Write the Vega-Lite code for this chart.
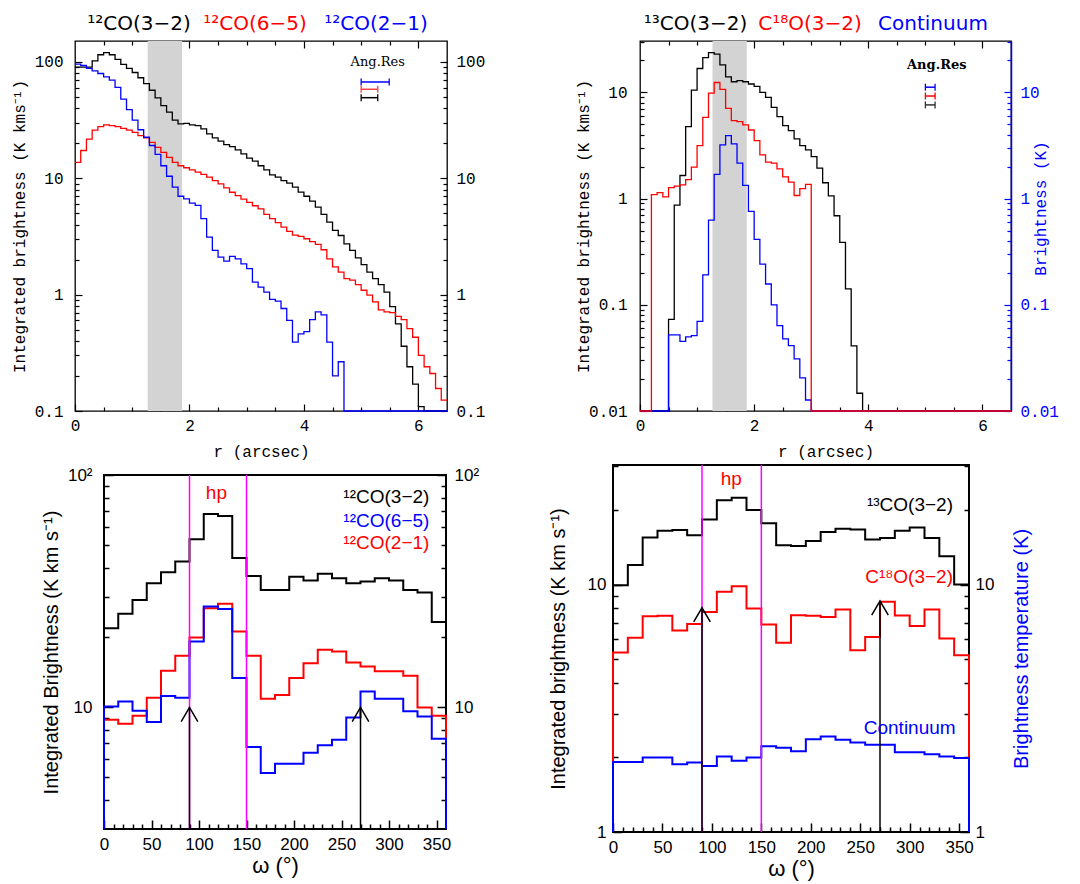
{
"$schema": "https://vega.github.io/schema/vega-lite/v6.json",
"padding": 0,
"background": "#ffffff",
"config": {
  "view": {"stroke": null},
  "axis": {"grid": false, "domain": false, "labelOverlap": false, "labelFlush": false, "titleFontWeight": "normal", "labelColor": "#000000", "titleColor": "#000000", "tickColor": "#000000"}
},
"datasets": {
  "tl_k": [{"r":0,"v":90},{"r":0.1,"v":90},{"r":0.2,"v":90},{"r":0.3,"v":102},{"r":0.4,"v":115},{"r":0.5,"v":120},{"r":0.6,"v":115},{"r":0.7,"v":105},{"r":0.8,"v":95},{"r":0.9,"v":88},
    {"r":1,"v":81},{"r":1.1,"v":73},{"r":1.2,"v":65},{"r":1.3,"v":57},{"r":1.4,"v":49},{"r":1.5,"v":42},{"r":1.6,"v":37},{"r":1.7,"v":31.6},{"r":1.8,"v":29.3},{"r":1.9,"v":29.6},
    {"r":2,"v":28.7},{"r":2.1,"v":28.3},{"r":2.2,"v":26.5},{"r":2.3,"v":24},{"r":2.4,"v":22.2},{"r":2.5,"v":20.8},{"r":2.6,"v":19.4},{"r":2.7,"v":18.7},{"r":2.8,"v":17.5},{"r":2.9,"v":16.2},
    {"r":3,"v":14.9},{"r":3.1,"v":14},{"r":3.2,"v":12.8},{"r":3.3,"v":11.8},{"r":3.4,"v":10.7},{"r":3.5,"v":10.2},{"r":3.6,"v":9.55},{"r":3.7,"v":9.06},{"r":3.8,"v":8.37},{"r":3.9,"v":7.6},
    {"r":4,"v":7},{"r":4.1,"v":6.35},{"r":4.2,"v":5.64},{"r":4.3,"v":4.9},{"r":4.4,"v":4.2},{"r":4.5,"v":3.56},{"r":4.6,"v":3.22},{"r":4.7,"v":2.73},{"r":4.8,"v":2.4},{"r":4.9,"v":2.07},
    {"r":5,"v":1.81},{"r":5.1,"v":1.56},{"r":5.2,"v":1.37},{"r":5.3,"v":1.22},{"r":5.4,"v":1.05},{"r":5.5,"v":0.79},{"r":5.6,"v":0.56},{"r":5.7,"v":0.36},{"r":5.8,"v":0.24},{"r":5.9,"v":0.17},
    {"r":6,"v":0.109},{"r":6.1,"v":0.1},{"r":6.2,"v":0.1},{"r":6.3,"v":0.1},{"r":6.4,"v":0.1},{"r":6.5,"v":0.1}],
  "tl_r": [{"r":0,"v":13.7},{"r":0.1,"v":17.3},{"r":0.2,"v":21.7},{"r":0.3,"v":25.9},{"r":0.4,"v":27.7},{"r":0.5,"v":28.7},{"r":0.6,"v":28.3},{"r":0.7,"v":27.7},{"r":0.8,"v":26.8},{"r":0.9,"v":25.9},
    {"r":1,"v":24.8},{"r":1.1,"v":23.2},{"r":1.2,"v":22.2},{"r":1.3,"v":20.3},{"r":1.4,"v":18.4},{"r":1.5,"v":16.7},{"r":1.6,"v":15.1},{"r":1.7,"v":13.7},{"r":1.8,"v":12.8},{"r":1.9,"v":12.3},
    {"r":2,"v":11.8},{"r":2.1,"v":11.3},{"r":2.2,"v":10.8},{"r":2.3,"v":10.2},{"r":2.4,"v":9.55},{"r":2.5,"v":8.94},{"r":2.6,"v":8.26},{"r":2.7,"v":7.58},{"r":2.8,"v":7.1},{"r":2.9,"v":6.6},
    {"r":3,"v":6.2},{"r":3.1,"v":5.8},{"r":3.2,"v":5.46},{"r":3.3,"v":4.9},{"r":3.4,"v":4.5},{"r":3.5,"v":4.15},{"r":3.6,"v":3.8},{"r":3.7,"v":3.5},{"r":3.8,"v":3.25},{"r":3.9,"v":3.16},
    {"r":4,"v":3.02},{"r":4.1,"v":2.85},{"r":4.2,"v":2.7},{"r":4.3,"v":2.43},{"r":4.4,"v":2.03},{"r":4.5,"v":1.73},{"r":4.6,"v":1.56},{"r":4.7,"v":1.37},{"r":4.8,"v":1.33},{"r":4.9,"v":1.22},
    {"r":5,"v":1.09},{"r":5.1,"v":0.99},{"r":5.2,"v":0.865},{"r":5.3,"v":0.74},{"r":5.4,"v":0.71},{"r":5.5,"v":0.7},{"r":5.6,"v":0.65},{"r":5.7,"v":0.61},{"r":5.8,"v":0.51},{"r":5.9,"v":0.43},
    {"r":6,"v":0.3},{"r":6.1,"v":0.24},{"r":6.2,"v":0.21},{"r":6.3,"v":0.156},{"r":6.4,"v":0.124},{"r":6.5,"v":0.124}],
  "tl_b": [{"r":0,"v":95.5},{"r":0.1,"v":93},{"r":0.2,"v":88},{"r":0.3,"v":83.7},{"r":0.4,"v":79.4},{"r":0.5,"v":74.4},{"r":0.6,"v":69.6},{"r":0.7,"v":60.3},{"r":0.8,"v":47.9},{"r":0.9,"v":38.8},
    {"r":1,"v":31.6},{"r":1.1,"v":26.1},{"r":1.2,"v":22.5},{"r":1.3,"v":19.1},{"r":1.4,"v":16},{"r":1.5,"v":12.8},{"r":1.6,"v":10.4},{"r":1.7,"v":8.37},{"r":1.8,"v":7},{"r":1.9,"v":6.65},
    {"r":2,"v":6.1},{"r":2.1,"v":5.84},{"r":2.2,"v":4.5},{"r":2.3,"v":3.12},{"r":2.4,"v":2.4},{"r":2.5,"v":2.1},{"r":2.6,"v":1.94},{"r":2.7,"v":2.13},{"r":2.8,"v":2.03},{"r":2.9,"v":1.84},
    {"r":3,"v":1.67},{"r":3.1,"v":1.28},{"r":3.2,"v":1.16},{"r":3.3,"v":1.05},{"r":3.4,"v":0.91},{"r":3.5,"v":0.88},{"r":3.6,"v":0.76},{"r":3.7,"v":0.6},{"r":3.8,"v":0.39},{"r":3.9,"v":0.46},
    {"r":4,"v":0.48},{"r":4.1,"v":0.61},{"r":4.2,"v":0.71},{"r":4.3,"v":0.67},{"r":4.4,"v":0.39},{"r":4.5,"v":0.2},{"r":4.6,"v":0.265},{"r":4.7,"v":0.1},{"r":6.5,"v":0.1}],
  "tr_k": [{"r":0,"v":0.01},{"r":0.1,"v":0.01},{"r":0.2,"v":0.01},{"r":0.3,"v":0.01},{"r":0.4,"v":0.01},{"r":0.5,"v":0.073},{"r":0.6,"v":0.87},{"r":0.7,"v":1.65},{"r":0.8,"v":4.77},{"r":0.9,"v":10.5},
    {"r":1,"v":16.8},{"r":1.1,"v":21.3},{"r":1.2,"v":23.7},{"r":1.3,"v":22.9},{"r":1.4,"v":18.2},{"r":1.5,"v":14},{"r":1.6,"v":12.6},{"r":1.7,"v":12.9},{"r":1.8,"v":12.6},{"r":1.9,"v":12},
    {"r":2,"v":11.4},{"r":2.1,"v":10},{"r":2.2,"v":8.98},{"r":2.3,"v":7.23},{"r":2.4,"v":5.91},{"r":2.5,"v":4.87},{"r":2.6,"v":4.37},{"r":2.7,"v":3.65},{"r":2.8,"v":3.16},{"r":2.9,"v":2.88},
    {"r":3,"v":2.49},{"r":3.1,"v":1.94},{"r":3.2,"v":1.41},{"r":3.3,"v":1.06},{"r":3.4,"v":0.69},{"r":3.5,"v":0.387},{"r":3.6,"v":0.141},{"r":3.7,"v":0.041},{"r":3.8,"v":0.0147},{"r":3.9,"v":0.01},{"r":6.5,"v":0.01}],
  "tr_r": [{"r":0,"v":0.01},{"r":0.1,"v":0.01},{"r":0.2,"v":1.09},{"r":0.3,"v":1.14},{"r":0.4,"v":1.04},{"r":0.5,"v":1.27},{"r":0.6,"v":1.31},{"r":0.7,"v":1.35},{"r":0.8,"v":1.51},{"r":0.9,"v":1.98},
    {"r":1,"v":3.16},{"r":1.1,"v":5.83},{"r":1.2,"v":9.86},{"r":1.3,"v":12.4},{"r":1.4,"v":10.7},{"r":1.5,"v":7.08},{"r":1.6,"v":5.42},{"r":1.7,"v":5.31},{"r":1.8,"v":4.94},{"r":1.9,"v":4.43},
    {"r":2,"v":3.52},{"r":2.1,"v":2.58},{"r":2.2,"v":2.21},{"r":2.3,"v":2.16},{"r":2.4,"v":1.91},{"r":2.5,"v":1.6},{"r":2.6,"v":1.43},{"r":2.7,"v":1.07},{"r":2.8,"v":1.24},{"r":2.9,"v":1.36},
    {"r":3,"v":0.01},{"r":6.5,"v":0.01}],
  "tr_b": [{"r":0,"v":0.01},{"r":0.1,"v":0.01},{"r":0.2,"v":0.01},{"r":0.3,"v":0.01},{"r":0.4,"v":0.01},{"r":0.5,"v":0.052},{"r":0.6,"v":0.052},{"r":0.7,"v":0.0453},{"r":0.8,"v":0.0498},{"r":0.9,"v":0.0512},
    {"r":1,"v":0.0698},{"r":1.1,"v":0.191},{"r":1.2,"v":0.626},{"r":1.3,"v":1.69},{"r":1.4,"v":3.21},{"r":1.5,"v":3.92},{"r":1.6,"v":3.28},{"r":1.7,"v":2.16},{"r":1.8,"v":1.33},{"r":1.9,"v":0.76},
    {"r":2,"v":0.413},{"r":2.1,"v":0.242},{"r":2.2,"v":0.157},{"r":2.3,"v":0.1},{"r":2.4,"v":0.0636},{"r":2.5,"v":0.0477},{"r":2.6,"v":0.0413},{"r":2.7,"v":0.031},{"r":2.8,"v":0.0205},{"r":2.9,"v":0.0127},
    {"r":3,"v":0.01},{"r":6.5,"v":0.01}],
  "bl_k": [{"w":0,"v":3},{"w":0,"v":21.9},{"w":15,"v":25.3},{"w":30,"v":29},{"w":45,"v":34.2},{"w":60,"v":38.2},{"w":75,"v":42.5},{"w":90,"v":52.9},{"w":105,"v":68},{"w":120,"v":66.6},{"w":135,"v":43.9},{"w":150,"v":36.8},{"w":165,"v":32},{"w":180,"v":32},{"w":195,"v":36.5},{"w":210,"v":35.2},{"w":225,"v":37.6},{"w":240,"v":36},{"w":255,"v":34.2},{"w":270,"v":34.8},{"w":285,"v":36},{"w":300,"v":35.2},{"w":315,"v":32},{"w":330,"v":31.2},{"w":345,"v":23.3},{"w":360,"v":23.3},{"w":360,"v":3}],
  "bl_r": [{"w":0,"v":3},{"w":0,"v":8.86},{"w":15,"v":8.51},{"w":30,"v":9.21},{"w":45,"v":11},{"w":60,"v":14.4},{"w":75,"v":16.7},{"w":90,"v":20},{"w":105,"v":26.7},{"w":120,"v":27.9},{"w":135,"v":21.2},{"w":150,"v":16.7},{"w":165,"v":10.9},{"w":180,"v":11.3},{"w":195,"v":13.4},{"w":210,"v":15.5},{"w":225,"v":17.7},{"w":240,"v":17.4},{"w":255,"v":15.6},{"w":270,"v":15},{"w":285,"v":14.3},{"w":300,"v":14.3},{"w":315,"v":13.7},{"w":330,"v":10},{"w":345,"v":9.21},{"w":360,"v":9.21},{"w":360,"v":3}],
  "bl_b": [{"w":0,"v":3},{"w":0,"v":10.1},{"w":15,"v":10.6},{"w":30,"v":9.68},{"w":45,"v":8.65},{"w":60,"v":11.2},{"w":75,"v":11},{"w":90,"v":19.2},{"w":105,"v":27.2},{"w":120,"v":26.5},{"w":135,"v":13.4},{"w":150,"v":6.76},{"w":165,"v":5.23},{"w":180,"v":5.73},{"w":195,"v":5.72},{"w":210,"v":6.38},{"w":225,"v":6.88},{"w":240,"v":7.27},{"w":255,"v":9.06},{"w":270,"v":11.7},{"w":285,"v":10.9},{"w":300,"v":10.9},{"w":315,"v":9.62},{"w":330,"v":9.15},{"w":345,"v":7.33},{"w":360,"v":7.33},{"w":360,"v":3}],
  "br_k": [{"w":0,"v":1},{"w":0,"v":9.94},{"w":15,"v":12},{"w":30,"v":15.5},{"w":45,"v":16.5},{"w":60,"v":16.6},{"w":75,"v":15.8},{"w":90,"v":18.3},{"w":105,"v":21.9},{"w":120,"v":22.4},{"w":135,"v":20},{"w":150,"v":17.7},{"w":165,"v":14.4},{"w":180,"v":14.3},{"w":195,"v":15},{"w":210,"v":16.3},{"w":225,"v":16.8},{"w":240,"v":16.7},{"w":255,"v":15.2},{"w":270,"v":15.4},{"w":285,"v":16.5},{"w":300,"v":17},{"w":315,"v":15.4},{"w":330,"v":13},{"w":345,"v":10},{"w":360,"v":10},{"w":360,"v":1}],
  "br_r": [{"w":0,"v":1},{"w":0,"v":5.31},{"w":15,"v":6.09},{"w":30,"v":7.45},{"w":45,"v":7.47},{"w":60,"v":6.52},{"w":75,"v":6.92},{"w":90,"v":7.75},{"w":105,"v":9.34},{"w":120,"v":9.85},{"w":135,"v":8},{"w":150,"v":6.89},{"w":165,"v":5.81},{"w":180,"v":7.52},{"w":195,"v":7.47},{"w":210,"v":7.39},{"w":225,"v":7.93},{"w":240,"v":5.43},{"w":255,"v":6.14},{"w":270,"v":8.51},{"w":285,"v":7.5},{"w":300,"v":6.79},{"w":315,"v":7.93},{"w":330,"v":6.05},{"w":345,"v":5.18},{"w":360,"v":5.18},{"w":360,"v":1}],
  "br_b": [{"w":0,"v":1},{"w":0,"v":1.92},{"w":15,"v":1.92},{"w":30,"v":2},{"w":45,"v":2},{"w":60,"v":1.88},{"w":75,"v":1.91},{"w":90,"v":1.85},{"w":105,"v":2.02},{"w":120,"v":1.94},{"w":135,"v":2},{"w":150,"v":2.22},{"w":165,"v":2.19},{"w":180,"v":2.12},{"w":195,"v":2.37},{"w":210,"v":2.43},{"w":225,"v":2.36},{"w":240,"v":2.3},{"w":255,"v":2.25},{"w":270,"v":2.25},{"w":285,"v":2.1},{"w":300,"v":2.1},{"w":315,"v":2.06},{"w":330,"v":2.02},{"w":345,"v":1.99},{"w":360,"v":1.99},{"w":360,"v":1}]
},
"concat": [
 {"width": 1, "height": 1, "view": {"stroke": null}, "data": {"values": [{"a": 0}]}, "mark": {"type": "point", "opacity": 0, "size": 0.01, "strokeWidth": 0}},
 {
  "width": 372, "height": 370,
  "view": {"stroke": "#000000", "strokeWidth": 1.3},
  "resolve": {"axis": {"x": "independent", "y": "independent"}},
  "layer": [
   {"data": {"values": [{"a": 1.27, "b": 1.87}]}, "mark": {"type": "rect", "color": "#d3d3d3"},
    "encoding": {"x": {"field": "a", "type": "quantitative", "scale": {"domain": [0, 6.5]}, "axis": null}, "x2": {"field": "b"}}},
   {"data": {"name": "tl_k"}, "mark": {"type": "line", "interpolate": "step-after", "color": "#000000", "strokeWidth": 1.3},
    "encoding": {
     "x": {"field": "r", "type": "quantitative", "scale": {"domain": [0, 6.5]}, "axis": {"orient": "bottom", "values": [0, 2, 4, 6], "format": "d", "tickSize": -7, "tickWidth": 1.2, "labelPadding": 13, "labelFont": "Liberation Mono", "labelFontSize": 16, "title": "r (arcsec)", "titleFont": "Liberation Mono", "titleFontSize": 16, "titlePadding": 10, "minExtent": 22, "maxExtent": 22}},
     "y": {"field": "v", "type": "quantitative", "scale": {"type": "log", "domain": [0.1, 151]}, "axis": {"orient": "left", "values": [0.1, 1, 10, 100], "format": "~g", "tickSize": -7, "tickWidth": 1.2, "labelPadding": 19, "labelFont": "Liberation Mono", "labelFontSize": 16, "title": "Integrated brightness (K kms⁻¹)", "titleFont": "Liberation Mono", "titleFontSize": 16, "titlePadding": 8, "minExtent": 40, "maxExtent": 40}}}},
   {"data": {"name": "tl_r"}, "mark": {"type": "line", "interpolate": "step-after", "color": "#ff0000", "strokeWidth": 1.3},
    "encoding": {
     "x": {"field": "r", "type": "quantitative", "scale": {"domain": [0, 6.5]}, "axis": {"orient": "bottom", "values": [0.5, 1, 1.5, 2.5, 3, 3.5, 4.5, 5, 5.5], "labels": false, "tickSize": -4, "tickWidth": 1.2, "title": null}},
     "y": {"field": "v", "type": "quantitative", "scale": {"type": "log", "domain": [0.1, 151]}, "axis": {"orient": "left", "values": [0.2,0.3,0.4,0.5,0.6,0.7,0.8,0.9,2,3,4,5,6,7,8,9,20,30,40,50,60,70,80,90], "labels": false, "tickSize": -4, "tickWidth": 1.2, "title": null}}}},
   {"data": {"name": "tl_b"}, "mark": {"type": "line", "interpolate": "step-after", "color": "#0000ff", "strokeWidth": 1.3},
    "encoding": {
     "x": {"field": "r", "type": "quantitative", "scale": {"domain": [0, 6.5]}, "axis": {"orient": "top", "values": [2, 4, 6], "labels": false, "tickSize": -7, "tickWidth": 1.2, "title": null}},
     "y": {"field": "v", "type": "quantitative", "scale": {"type": "log", "domain": [0.1, 151]}, "axis": {"orient": "right", "values": [0.1, 1, 10, 100], "format": "~g", "tickSize": -7, "tickWidth": 1.2, "labelPadding": 16, "labelFont": "Liberation Mono", "labelFontSize": 16, "title": null}}}},
   {"data": {"values": [{"t": "Ang.Res", "x": 5.29, "y": 99.7}]}, "mark": {"type": "text", "font": "DejaVu Serif", "fontSize": 13, "align": "center", "baseline": "middle", "color": "#000000"},
    "encoding": {
     "x": {"field": "x", "type": "quantitative", "scale": {"domain": [0, 6.5]}, "axis": {"orient": "top", "values": [0.5, 1, 1.5, 2.5, 3, 3.5, 4.5, 5, 5.5], "labels": false, "tickSize": -4, "tickWidth": 1.2, "title": null}},
     "y": {"field": "y", "type": "quantitative", "scale": {"type": "log", "domain": [0.1, 151]}, "axis": {"orient": "right", "values": [0.2,0.3,0.4,0.5,0.6,0.7,0.8,0.9,2,3,4,5,6,7,8,9,20,30,40,50,60,70,80,90], "labels": false, "tickSize": -4, "tickWidth": 1.2, "title": null}},
     "text": {"field": "t"}}},
   {"data": {"values": [{"a": 5.0, "b": 5.49, "v": 67.1, "c": "#0000ff"}, {"a": 5.0, "b": 5.29, "v": 58.1, "c": "#ff4040"}, {"a": 5.0, "b": 5.29, "v": 49.2, "c": "#000000"}]},
    "mark": {"type": "rule", "strokeWidth": 1.5},
    "encoding": {"x": {"field": "a", "type": "quantitative", "scale": {"domain": [0, 6.5]}, "axis": null}, "x2": {"field": "b"}, "y": {"field": "v", "type": "quantitative", "scale": {"type": "log", "domain": [0.1, 151]}, "axis": null}, "color": {"field": "c", "type": "nominal", "scale": null}}},
   {"data": {"values": [{"x": 5.0, "v": 67.1, "c": "#0000ff"}, {"x": 5.49, "v": 67.1, "c": "#0000ff"}, {"x": 5.0, "v": 58.1, "c": "#ff4040"}, {"x": 5.29, "v": 58.1, "c": "#ff4040"}, {"x": 5.0, "v": 49.2, "c": "#000000"}, {"x": 5.29, "v": 49.2, "c": "#000000"}]},
    "mark": {"type": "tick", "orient": "vertical", "size": 7, "thickness": 1.3, "opacity": 1},
    "encoding": {"x": {"field": "x", "type": "quantitative", "scale": {"domain": [0, 6.5]}, "axis": null}, "y": {"field": "v", "type": "quantitative", "scale": {"type": "log", "domain": [0.1, 151]}, "axis": null}, "color": {"field": "c", "type": "nominal", "scale": null}}},
   {"data": {"values": [{"t": "¹²CO(3−2)", "x": 1.118, "y": 211, "c": "#000000"}, {"t": "¹²CO(6−5)", "x": 3.145, "y": 211, "c": "#ff0000"}, {"t": "¹²CO(2−1)", "x": 5.26, "y": 211, "c": "#0000ff"}]},
    "mark": {"type": "text", "font": "DejaVu Sans", "fontSize": 20, "align": "center", "baseline": "middle"},
    "encoding": {"x": {"field": "x", "type": "quantitative", "scale": {"domain": [0, 6.5]}, "axis": null}, "y": {"field": "y", "type": "quantitative", "scale": {"type": "log", "domain": [0.1, 151]}, "axis": null}, "text": {"field": "t"}, "color": {"field": "c", "type": "nominal", "scale": null}}},
   {"data": {"values": [{"x": -1.2756, "y": 333.2}, {"x": 7.601, "y": 0.03947}]}, "mark": {"type": "point", "filled": true, "size": 0.01, "opacity": 0, "strokeWidth": 0},
    "encoding": {"x": {"field": "x", "type": "quantitative", "scale": {"domain": [0, 6.5]}, "axis": null}, "y": {"field": "y", "type": "quantitative", "scale": {"type": "log", "domain": [0.1, 151]}, "axis": null}}}
  ]
 },
 {
  "width": 371, "height": 370,
  "view": {"stroke": "#000000", "strokeWidth": 1.3},
  "resolve": {"axis": {"x": "independent", "y": "independent"}},
  "layer": [
   {"data": {"values": [{"a": 1.27, "b": 1.87}]}, "mark": {"type": "rect", "color": "#d3d3d3"},
    "encoding": {"x": {"field": "a", "type": "quantitative", "scale": {"domain": [0, 6.5]}, "axis": null}, "x2": {"field": "b"}}},
   {"data": {"name": "tr_k"}, "mark": {"type": "line", "interpolate": "step-after", "color": "#000000", "strokeWidth": 1.3},
    "encoding": {
     "x": {"field": "r", "type": "quantitative", "scale": {"domain": [0, 6.5]}, "axis": {"orient": "bottom", "values": [0, 2, 4, 6], "format": "d", "tickSize": -7, "tickWidth": 1.2, "labelPadding": 13, "labelFont": "Liberation Mono", "labelFontSize": 16, "title": "r (arcsec)", "titleFont": "Liberation Mono", "titleFontSize": 16, "titlePadding": 10, "minExtent": 22, "maxExtent": 22}},
     "y": {"field": "v", "type": "quantitative", "scale": {"type": "log", "domain": [0.01, 30.5]}, "axis": {"orient": "left", "values": [0.01, 0.1, 1, 10], "format": "~g", "tickSize": -7, "tickWidth": 1.2, "labelPadding": 20, "labelFont": "Liberation Mono", "labelFontSize": 16, "title": "Integrated brightness (K kms⁻¹)", "titleFont": "Liberation Mono", "titleFontSize": 16, "titlePadding": 9, "minExtent": 40, "maxExtent": 40}}}},
   {"data": {"name": "tr_b"}, "mark": {"type": "line", "interpolate": "step-after", "color": "#0000ff", "strokeWidth": 1.3},
    "encoding": {
     "x": {"field": "r", "type": "quantitative", "scale": {"domain": [0, 6.5]}, "axis": {"orient": "bottom", "values": [0.5, 1, 1.5, 2.5, 3, 3.5, 4.5, 5, 5.5], "labels": false, "tickSize": -4, "tickWidth": 1.2, "title": null}},
     "y": {"field": "v", "type": "quantitative", "scale": {"type": "log", "domain": [0.01, 30.5]}, "axis": {"orient": "left", "values": [0.02,0.03,0.04,0.05,0.06,0.07,0.08,0.09,0.2,0.3,0.4,0.5,0.6,0.7,0.8,0.9,2,3,4,5,6,7,8,9,20,30], "labels": false, "tickSize": -4, "tickWidth": 1.2, "title": null}}}},
   {"data": {"name": "tr_r"}, "mark": {"type": "line", "interpolate": "step-after", "color": "#ff0000", "strokeWidth": 1.3},
    "encoding": {
     "x": {"field": "r", "type": "quantitative", "scale": {"domain": [0, 6.5]}, "axis": {"orient": "top", "values": [2, 4, 6], "labels": false, "tickSize": -7, "tickWidth": 1.2, "title": null}},
     "y": {"field": "v", "type": "quantitative", "scale": {"type": "log", "domain": [0.01, 30.5]}, "axis": {"orient": "right", "values": [0.01, 0.1, 1, 10], "format": "~g", "tickSize": -7, "tickWidth": 1.2, "tickColor": "#0000ff", "domain": true, "domainColor": "#0000ff", "domainWidth": 1.5, "labelPadding": 16, "labelFont": "Liberation Mono", "labelFontSize": 16, "labelColor": "#0000ff", "title": "Brightness (K)", "titleFont": "Liberation Mono", "titleFontSize": 16, "titleColor": "#0000ff", "titleAngle": 270, "titleBaseline": "top", "titlePadding": 7, "titleY": 167, "minExtent": 14, "maxExtent": 14}}}},
   {"data": {"values": [{"t": "Ang.Res", "x": 5.2, "y": 18.0}]}, "mark": {"type": "text", "font": "DejaVu Serif", "fontSize": 13, "fontWeight": "bold", "align": "center", "baseline": "middle", "color": "#000000"},
    "encoding": {
     "x": {"field": "x", "type": "quantitative", "scale": {"domain": [0, 6.5]}, "axis": {"orient": "top", "values": [0.5, 1, 1.5, 2.5, 3, 3.5, 4.5, 5, 5.5], "labels": false, "tickSize": -4, "tickWidth": 1.2, "title": null}},
     "y": {"field": "y", "type": "quantitative", "scale": {"type": "log", "domain": [0.01, 30.5]}, "axis": {"orient": "right", "values": [0.02,0.03,0.04,0.05,0.06,0.07,0.08,0.09,0.2,0.3,0.4,0.5,0.6,0.7,0.8,0.9,2,3,4,5,6,7,8,9,20,30], "labels": false, "tickSize": -4, "tickWidth": 1.2, "tickColor": "#0000ff", "title": null}},
     "text": {"field": "t"}}},
   {"data": {"values": [{"a": 5.0, "b": 5.17, "v": 11.2, "c": "#0000ff"}, {"a": 5.0, "b": 5.17, "v": 9.25, "c": "#ff0000"}, {"a": 5.0, "b": 5.17, "v": 7.63, "c": "#333333"}]},
    "mark": {"type": "rule", "strokeWidth": 1.5},
    "encoding": {"x": {"field": "a", "type": "quantitative", "scale": {"domain": [0, 6.5]}, "axis": null}, "x2": {"field": "b"}, "y": {"field": "v", "type": "quantitative", "scale": {"type": "log", "domain": [0.01, 30.5]}, "axis": null}, "color": {"field": "c", "type": "nominal", "scale": null}}},
   {"data": {"values": [{"x": 5.0, "v": 11.2, "c": "#0000ff"}, {"x": 5.17, "v": 11.2, "c": "#0000ff"}, {"x": 5.0, "v": 9.25, "c": "#ff0000"}, {"x": 5.17, "v": 9.25, "c": "#ff0000"}, {"x": 5.0, "v": 7.63, "c": "#333333"}, {"x": 5.17, "v": 7.63, "c": "#333333"}]},
    "mark": {"type": "tick", "orient": "vertical", "size": 7, "thickness": 1.3, "opacity": 1},
    "encoding": {"x": {"field": "x", "type": "quantitative", "scale": {"domain": [0, 6.5]}, "axis": null}, "y": {"field": "v", "type": "quantitative", "scale": {"type": "log", "domain": [0.01, 30.5]}, "axis": null}, "color": {"field": "c", "type": "nominal", "scale": null}}},
   {"data": {"values": [{"t": "¹³CO(3−2)", "x": 0.972, "y": 44.1, "c": "#000000"}, {"t": "C¹⁸O(3−2)", "x": 2.978, "y": 44.1, "c": "#ff0000"}, {"t": "Continuum", "x": 5.133, "y": 44.1, "c": "#0000ff"}]},
    "mark": {"type": "text", "font": "DejaVu Sans", "fontSize": 20, "align": "center", "baseline": "middle"},
    "encoding": {"x": {"field": "x", "type": "quantitative", "scale": {"domain": [0, 6.5]}, "axis": null}, "y": {"field": "y", "type": "quantitative", "scale": {"type": "log", "domain": [0.01, 30.5]}, "axis": null}, "text": {"field": "t"}, "color": {"field": "c", "type": "nominal", "scale": null}}},
   {"data": {"values": [{"x": -2.225, "y": 72.6}, {"x": 7.708, "y": 0.003609}]}, "mark": {"type": "point", "filled": true, "size": 0.01, "opacity": 0, "strokeWidth": 0},
    "encoding": {"x": {"field": "x", "type": "quantitative", "scale": {"domain": [0, 6.5]}, "axis": null}, "y": {"field": "y", "type": "quantitative", "scale": {"type": "log", "domain": [0.01, 30.5]}, "axis": null}}}
  ]
 },
 {"width": 1, "height": 1, "view": {"stroke": null}, "data": {"values": [{"a": 0}]}, "mark": {"type": "point", "opacity": 0, "size": 0.01, "strokeWidth": 0}},
 {
  "width": 342, "height": 354,
  "view": {"stroke": "#000000", "strokeWidth": 2},
  "resolve": {"axis": {"x": "independent", "y": "independent"}},
  "layer": [
   {"data": {"name": "bl_k"}, "mark": {"type": "line", "interpolate": "step-after", "color": "#000000", "strokeWidth": 2},
    "encoding": {
     "x": {"field": "w", "type": "quantitative", "scale": {"domain": [0, 360]}, "axis": {"orient": "bottom", "values": [0, 50, 100, 150, 200, 250, 300, 350], "format": "d", "tickSize": -9, "tickWidth": 1.5, "labelPadding": 16, "labelFont": "Liberation Sans", "labelFontSize": 17, "title": "ω (°)", "titleFont": "Liberation Sans", "titleFontSize": 22, "titlePadding": 6, "minExtent": 20, "maxExtent": 20}},
     "y": {"field": "v", "type": "quantitative", "scale": {"type": "log", "domain": [3, 100]}, "axis": {"orient": "left", "values": [10, 100], "labelExpr": "datum.value >= 100 ? '10²' : '10'", "tickSize": -9, "tickWidth": 1.5, "labelPadding": 21, "labelFont": "Liberation Sans", "labelFontSize": 17, "title": "Integrated Brightness (K km s⁻¹)", "titleFont": "Liberation Sans", "titleFontSize": 20, "titlePadding": 5, "minExtent": 38, "maxExtent": 38}},
     "order": {"value": null}}},
   {"data": {"name": "bl_r"}, "mark": {"type": "line", "interpolate": "step-after", "color": "#ff0000", "strokeWidth": 2},
    "encoding": {
     "x": {"field": "w", "type": "quantitative", "scale": {"domain": [0, 360]}, "axis": {"orient": "bottom", "values": [10,20,30,40,60,70,80,90,110,120,130,140,160,170,180,190,210,220,230,240,260,270,280,290,310,320,330,340], "labels": false, "tickSize": -5, "tickWidth": 1.5, "title": null}},
     "y": {"field": "v", "type": "quantitative", "scale": {"type": "log", "domain": [3, 100]}, "axis": {"orient": "left", "values": [4,5,6,7,8,9,20,30,40,50,60,70,80,90], "labels": false, "tickSize": -5, "tickWidth": 1.5, "title": null}},
     "order": {"value": null}}},
   {"data": {"name": "bl_b"}, "mark": {"type": "line", "interpolate": "step-after", "color": "#0000ff", "strokeWidth": 2},
    "encoding": {
     "x": {"field": "w", "type": "quantitative", "scale": {"domain": [0, 360]}, "axis": null},
     "y": {"field": "v", "type": "quantitative", "scale": {"type": "log", "domain": [3, 100]}, "axis": {"orient": "right", "values": [10, 100], "labelExpr": "datum.value >= 100 ? '10²' : '10'", "tickSize": -9, "tickWidth": 1.5, "labelPadding": 17, "labelFont": "Liberation Sans", "labelFontSize": 17, "title": null}},
     "order": {"value": null}}},
   {"data": {"values": [{"w": 90}, {"w": 150}]}, "mark": {"type": "rule", "color": "#ff00ff", "strokeWidth": 1.5},
    "encoding": {"x": {"field": "w", "type": "quantitative", "scale": {"domain": [0, 360]}, "axis": null}}},
   {"data": {"values": [{"w": 90, "a": 3, "b": 10}, {"w": 270, "a": 3, "b": 10}]}, "mark": {"type": "rule", "color": "#000000", "strokeWidth": 1.5},
    "encoding": {"x": {"field": "w", "type": "quantitative", "scale": {"domain": [0, 360]}, "axis": null}, "y": {"field": "a", "type": "quantitative", "scale": {"type": "log", "domain": [3, 100]}, "axis": {"orient": "right", "values": [4,5,6,7,8,9,20,30,40,50,60,70,80,90], "labels": false, "tickSize": -5, "tickWidth": 1.5, "title": null}}, "y2": {"field": "b"}}},
   {"data": {"values": [{"w": 90, "v": 10}, {"w": 270, "v": 10}]}, "mark": {"type": "point", "shape": "M-1,1.7L0,0L1,1.7", "size": 276, "filled": false, "stroke": "#000000", "strokeWidth": 1.5, "opacity": 1},
    "encoding": {"x": {"field": "w", "type": "quantitative", "scale": {"domain": [0, 360]}, "axis": null}, "y": {"field": "v", "type": "quantitative", "scale": {"type": "log", "domain": [3, 100]}, "axis": null}}},
   {"data": {"values": [{"t": "hp", "w": 118.3, "v": 83.7}]}, "mark": {"type": "text", "font": "Liberation Sans", "fontSize": 19, "color": "#ff0000", "align": "center", "baseline": "middle"},
    "encoding": {"x": {"field": "w", "type": "quantitative", "scale": {"domain": [0, 360]}, "axis": null}, "y": {"field": "v", "type": "quantitative", "scale": {"type": "log", "domain": [3, 100]}, "axis": null}, "text": {"field": "t"}}},
   {"data": {"values": [{"t": "¹²CO(3−2)", "w": 342.5, "v": 80.4, "c": "#000000"}, {"t": "¹²CO(6−5)", "w": 342.5, "v": 63.6, "c": "#0000ff"}, {"t": "¹²CO(2−1)", "w": 342.5, "v": 50.8, "c": "#ff0000"}]},
    "mark": {"type": "text", "font": "Liberation Sans", "fontSize": 19, "align": "right", "baseline": "middle"},
    "encoding": {"x": {"field": "w", "type": "quantitative", "scale": {"domain": [0, 360]}, "axis": null}, "y": {"field": "v", "type": "quantitative", "scale": {"type": "log", "domain": [3, 100]}, "axis": null}, "text": {"field": "t"}, "color": {"field": "c", "type": "nominal", "scale": null}}},
   {"data": {"values": [{"w": -107.16, "v": 114.3}, {"w": 457.9, "v": 1.74}]}, "mark": {"type": "point", "filled": true, "size": 0.01, "opacity": 0, "strokeWidth": 0},
    "encoding": {"x": {"field": "w", "type": "quantitative", "scale": {"domain": [0, 360]}, "axis": null}, "y": {"field": "v", "type": "quantitative", "scale": {"type": "log", "domain": [3, 100]}, "axis": null}}}
  ]
 },
 {
  "width": 356, "height": 367,
  "view": {"stroke": "#000000", "strokeWidth": 2},
  "resolve": {"axis": {"x": "independent", "y": "independent"}},
  "layer": [
   {"data": {"name": "br_k"}, "mark": {"type": "line", "interpolate": "step-after", "color": "#000000", "strokeWidth": 2},
    "encoding": {
     "x": {"field": "w", "type": "quantitative", "scale": {"domain": [0, 360]}, "axis": {"orient": "bottom", "values": [0, 50, 100, 150, 200, 250, 300, 350], "format": "d", "tickSize": -9, "tickWidth": 1.5, "labelPadding": 16, "labelFont": "Liberation Sans", "labelFontSize": 17, "title": "ω (°)", "titleFont": "Liberation Sans", "titleFontSize": 22, "titlePadding": 6, "minExtent": 20, "maxExtent": 20}},
     "y": {"field": "v", "type": "quantitative", "scale": {"type": "log", "domain": [1, 30.4]}, "axis": {"orient": "left", "values": [1, 10], "format": "d", "tickSize": -9, "tickWidth": 1.5, "labelPadding": 16, "labelFont": "Liberation Sans", "labelFontSize": 17, "title": "Integrated brightness (K km s⁻¹)", "titleFont": "Liberation Sans", "titleFontSize": 20, "titlePadding": 10, "minExtent": 35, "maxExtent": 35}},
     "order": {"value": null}}},
   {"data": {"name": "br_r"}, "mark": {"type": "line", "interpolate": "step-after", "color": "#ff0000", "strokeWidth": 2},
    "encoding": {
     "x": {"field": "w", "type": "quantitative", "scale": {"domain": [0, 360]}, "axis": {"orient": "bottom", "values": [10,20,30,40,60,70,80,90,110,120,130,140,160,170,180,190,210,220,230,240,260,270,280,290,310,320,330,340], "labels": false, "tickSize": -5, "tickWidth": 1.5, "title": null}},
     "y": {"field": "v", "type": "quantitative", "scale": {"type": "log", "domain": [1, 30.4]}, "axis": {"orient": "left", "values": [2,3,4,5,6,7,8,9,20,30], "labels": false, "tickSize": -5, "tickWidth": 1.5, "title": null}},
     "order": {"value": null}}},
   {"data": {"name": "br_b"}, "mark": {"type": "line", "interpolate": "step-after", "color": "#0000ff", "strokeWidth": 2},
    "encoding": {
     "x": {"field": "w", "type": "quantitative", "scale": {"domain": [0, 360]}, "axis": null},
     "y": {"field": "v", "type": "quantitative", "scale": {"type": "log", "domain": [1, 30.4]}, "axis": {"orient": "right", "values": [1, 10], "format": "d", "tickSize": -9, "tickWidth": 1.5, "labelPadding": 15, "labelFont": "Liberation Sans", "labelFontSize": 17, "title": "Brightness temperature (K)", "titleFont": "Liberation Sans", "titleFontSize": 20, "titleColor": "#0000ff", "titleAngle": 270, "titleBaseline": "top", "titlePadding": 10, "minExtent": 32, "maxExtent": 32}},
     "order": {"value": null}}},
   {"data": {"values": [{"w": 90}, {"w": 150}]}, "mark": {"type": "rule", "color": "#ff00ff", "strokeWidth": 1.5},
    "encoding": {"x": {"field": "w", "type": "quantitative", "scale": {"domain": [0, 360]}, "axis": null}}},
   {"data": {"values": [{"w": 90, "a": 1, "b": 8.05}, {"w": 270, "a": 1, "b": 8.57}]}, "mark": {"type": "rule", "color": "#000000", "strokeWidth": 1.5},
    "encoding": {"x": {"field": "w", "type": "quantitative", "scale": {"domain": [0, 360]}, "axis": null}, "y": {"field": "a", "type": "quantitative", "scale": {"type": "log", "domain": [1, 30.4]}, "axis": {"orient": "right", "values": [2,3,4,5,6,7,8,9,20,30], "labels": false, "tickSize": -5, "tickWidth": 1.5, "title": null}}, "y2": {"field": "b"}}},
   {"data": {"values": [{"w": 90, "v": 8.05}, {"w": 270, "v": 8.57}]}, "mark": {"type": "point", "shape": "M-1,1.7L0,0L1,1.7", "size": 276, "filled": false, "stroke": "#000000", "strokeWidth": 1.5, "opacity": 1},
    "encoding": {"x": {"field": "w", "type": "quantitative", "scale": {"domain": [0, 360]}, "axis": null}, "y": {"field": "v", "type": "quantitative", "scale": {"type": "log", "domain": [1, 30.4]}, "axis": null}}},
   {"data": {"values": [{"t": "hp", "w": 119.7, "v": 26.7}]}, "mark": {"type": "text", "font": "Liberation Sans", "fontSize": 19, "color": "#ff0000", "align": "center", "baseline": "middle"},
    "encoding": {"x": {"field": "w", "type": "quantitative", "scale": {"domain": [0, 360]}, "axis": null}, "y": {"field": "v", "type": "quantitative", "scale": {"type": "log", "domain": [1, 30.4]}, "axis": null}, "text": {"field": "t"}}},
   {"data": {"values": [{"t": "¹³CO(3−2)", "w": 343.8, "v": 21.0, "c": "#000000"}, {"t": "C¹⁸O(3−2)", "w": 343.8, "v": 10.75, "c": "#ff0000"}, {"t": "Continuum", "w": 346.5, "v": 2.64, "c": "#0000ff"}]},
    "mark": {"type": "text", "font": "Liberation Sans", "fontSize": 19, "align": "right", "baseline": "middle"},
    "encoding": {"x": {"field": "w", "type": "quantitative", "scale": {"domain": [0, 360]}, "axis": null}, "y": {"field": "v", "type": "quantitative", "scale": {"type": "log", "domain": [1, 30.4]}, "axis": null}, "text": {"field": "t"}, "color": {"field": "c", "type": "nominal", "scale": null}}},
   {"data": {"values": [{"w": -70.8, "v": 31.35}, {"w": 471.9, "v": 0.607}]}, "mark": {"type": "point", "filled": true, "size": 0.01, "opacity": 0, "strokeWidth": 0},
    "encoding": {"x": {"field": "w", "type": "quantitative", "scale": {"domain": [0, 360]}, "axis": null}, "y": {"field": "v", "type": "quantitative", "scale": {"type": "log", "domain": [1, 30.4]}, "axis": null}}}
  ]
 }
],
"columns": 3,
"align": "none",
"spacing": 0
}
